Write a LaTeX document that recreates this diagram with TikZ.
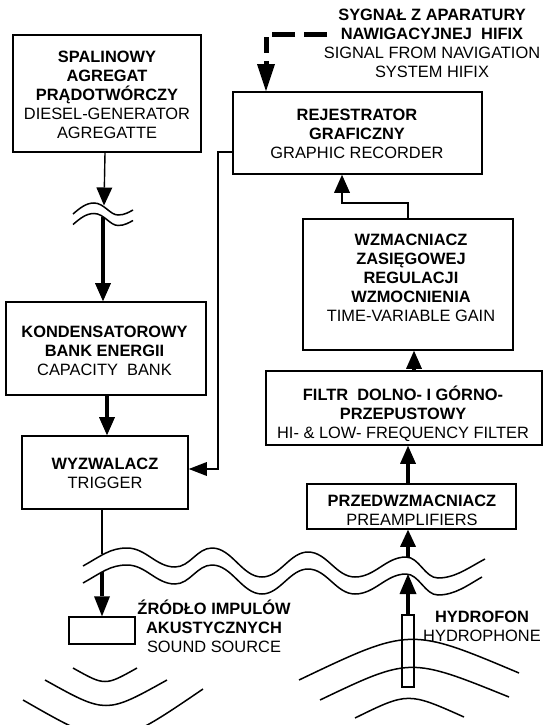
\documentclass[tikz,border=0pt]{standalone}
\usepackage{fontspec}
\setmainfont{Liberation Sans}
\usetikzlibrary{arrows.meta}
\begin{document}
\begin{tikzpicture}[x=1pt,y=-1pt,
  box/.style={draw, line width=1.6pt, inner sep=0pt},
  txt/.style={align=center, inner sep=0pt, font=\fontsize{16.4}{19}\selectfont},
  conthin/.style={line width=1.4pt},
  conthick/.style={line width=3.2pt},
  arrowtip/.style={-{Triangle[width=16pt,length=18pt,line width=0pt]}},
  wave/.style={line width=1.5pt},
  arcline/.style={line width=1.5pt}]
\useasboundingbox (0,0) rectangle (544,725);

% boxes
\node[box, minimum width=188pt, minimum height=117pt] (b1) at (107,93.5) {};
\node[box, minimum width=249pt, minimum height=82pt] (b2) at (357.2,133) {};
\node[box, minimum width=200pt, minimum height=93pt] (b3) at (106,348.5) {};
\node[box, minimum width=166pt, minimum height=73pt] (b4) at (105,472.5) {};
\node[box, minimum width=210pt, minimum height=131pt] (b5) at (408,284.5) {};
\node[box, minimum width=276pt, minimum height=74pt] (b6) at (404,408) {};
\node[box, minimum width=209pt, minimum height=45pt] (b7) at (411.5,506.5) {};
\node[box, line width=1.5pt, minimum width=66pt, minimum height=27pt] (src) at (102,630.5) {};
\node[box, line width=1.3pt, minimum width=12pt, minimum height=72pt] (hyd) at (408,651) {};

% texts
\node[txt] (t1) at (107,95) {\textbf{SPALINOWY}\\\textbf{AGREGAT}\\\textbf{PRĄDOTWÓRCZY}\\DIESEL-GENERATOR\\AGREGATTE};
\node[txt] (t2) at (357,134) {\textbf{REJESTRATOR}\\\textbf{GRAFICZNY}\\GRAPHIC RECORDER};
\node[txt] (t3) at (104.5,350.5) {\textbf{KONDENSATOROWY}\\\textbf{BANK ENERGII}\\CAPACITY\ \ BANK};
\node[txt] (t4) at (105,473) {\textbf{WYZWALACZ}\\TRIGGER};
\node[txt] (t5) at (411,278) {\textbf{WZMACNIACZ}\\\textbf{ZASIĘGOWEJ}\\\textbf{REGULACJI}\\\textbf{WZMOCNIENIA}\\TIME-VARIABLE GAIN};
\node[txt] (t6) at (403,414) {\textbf{FILTR\ \ DOLNO- I GÓRNO-}\\\textbf{PRZEPUSTOWY}\\HI- \& LOW- FREQUENCY FILTER};
\node[txt] (t7) at (412,510) {\textbf{PRZEDWZMACNIACZ}\\PREAMPLIFIERS};
\node[txt] (tsrc) at (214,626) {\textbf{ŹRÓDŁO IMPULÓW}\\\textbf{AKUSTYCZNYCH}\\SOUND SOURCE};
\node[txt] (thyd) at (482,626.5) {\textbf{HYDROFON}\\HYDROPHONE};
\node[txt] (tsig) at (432,43.5) {\textbf{SYGNAŁ Z APARATURY}\\\textbf{NAWIGACYJNEJ\ \ HIFIX}\\SIGNAL FROM NAVIGATION\\SYSTEM HIFIX};

% small wave (cable break)
\draw[wave] (73,214) .. controls (80,208) and (86,203) .. (94,203)
  .. controls (104,203) and (110,215) .. (118,215)
  .. controls (125,215) and (129,212) .. (133,210);
\begin{scope}[shift={(0,10.5)}]
\draw[wave] (73,214) .. controls (80,208) and (86,203) .. (94,203)
  .. controls (104,203) and (110,215) .. (118,215)
  .. controls (125,215) and (129,212) .. (133,210);
\end{scope}

% water surface
\draw[wave] (83,566) .. controls (101,556) and (110,548) .. (127,548)
  .. controls (146,548) and (156,567) .. (175,567)
  .. controls (190,567) and (197,548) .. (212,548)
  .. controls (232,548) and (242,577) .. (262,577)
  .. controls (280,577) and (290,552) .. (308,552)
  .. controls (327,552) and (336,577) .. (355,577)
  .. controls (375,577) and (386,557) .. (406,557)
  .. controls (419,557) and (425,578) .. (438,578)
  .. controls (455,578) and (468,568) .. (485,559);
\begin{scope}[shift={(0,17)}]
\draw[wave] (83,566) .. controls (101,556) and (110,548) .. (127,548)
  .. controls (146,548) and (156,567) .. (175,567)
  .. controls (190,567) and (197,548) .. (212,548)
  .. controls (232,548) and (242,577) .. (262,577)
  .. controls (280,577) and (290,552) .. (308,552)
  .. controls (327,552) and (336,577) .. (355,577)
  .. controls (375,577) and (386,557) .. (406,557)
  .. controls (419,557) and (425,578) .. (438,578)
  .. controls (455,578) and (468,568) .. (482,560);
\end{scope}

% contact coordinates
\coordinate (sw1) at (104,205.5);
\coordinate (sw2) at (103,217);
\coordinate (ws1) at (102,554);
\coordinate (ws2) at (102,572);
\coordinate (wh1) at (408,557);
\coordinate (wh2) at (408,574);
\coordinate (sigstart) at (327,34.5);
\coordinate (sigcorner) at (266,34.5);
\coordinate (sigend) at (266,53);
\coordinate (sighead) at (266,61);

% connectors
\draw[conthin, arrowtip] (b1.south -| 105,0) -- (sw1);
\draw[conthick, arrowtip] (sw2) -- (sw2 |- b3.north);
\draw[conthick, arrowtip] (b3.south -| 107,0) -- (b4.north -| 107,0);
\draw[conthin] (b4.south -| 102,0) -- (ws1);
\draw[conthick, -{Triangle[width=16pt,length=20pt,line width=0pt]}] (ws2) -- (src.north);
\draw[conthin, -{Triangle[width=14pt,length=18pt,line width=0pt]}] (b2.west |- 0,152) -- (218,152) -- (218,469) -- (b4.east |- 0,469);
\draw[conthin, arrowtip] (b5.north -| 408,0) -- (408,203) -- (342,203) -- (b2.south -| 342,0);
\draw[conthick, arrowtip] (b6.north -| 414,0) -- (b5.south -| 414,0);
\draw[conthick, arrowtip] (b7.north -| 408,0) -- (b6.south -| 408,0);
\draw[conthick, -{Triangle[width=16pt,length=17pt,line width=0pt]}] (wh1) -- (b7.south -| 408,0);
\draw[conthick, -{Triangle[width=17pt,length=20pt,line width=0pt]}] (hyd.north) -- (wh2);
\draw[line width=5pt, dash pattern=on 23pt off 9pt] (sigstart) -- (sigcorner) -- (sigend);
\draw[line width=5pt, -{Triangle[width=18pt,length=27pt,line width=0pt]}] (sighead) -- (b2.north -| sighead);

% acoustic arcs at source
\draw[arcline] (73,668) .. controls (105,686) .. (137,668);
\draw[arcline] (45,680) .. controls (106,714) .. (167,680);
\draw[arcline] (23,700) .. controls (112,751) .. (203,689);
% acoustic arcs at hydrophone
\draw[arcline] (299,680) .. controls (410,627) .. (519,673);
\draw[arcline] (320,700) .. controls (410,657) .. (509,697);
\draw[arcline] (355,718) .. controls (408,692) .. (464,717);
\end{tikzpicture}
\end{document}
